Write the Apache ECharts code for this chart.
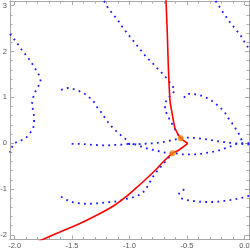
<!DOCTYPE html>
<html>
<head>
<meta charset="utf-8">
<script src="https://cdn.jsdelivr.net/npm/echarts@6/dist/echarts.min.js"></script>
<style>html,body{margin:0;padding:0;background:#fff}#c{width:250px;height:250px}</style>
</head>
<body>
<div id="c"></div>
<script>
// Axis ranges and ticks
var xRange = [-2.04, 0.04];
var yRange = [-2.1, 3.1];
var xMajorTicks = [-2, -1.5, -1, -0.5, 0];
var xMinorTicks = [-1.9,-1.8,-1.7,-1.6,-1.4,-1.3,-1.2,-1.1,-0.9,-0.8,-0.7,-0.6,-0.4,-0.3,-0.2,-0.1];
var yMajorTicks = [-2, -1, 0, 1, 2, 3];
var yMinorTicks = [-1.8,-1.6,-1.4,-1.2,-0.8,-0.6,-0.4,-0.2,0.2,0.4,0.6,0.8,1.2,1.4,1.6,1.8,2.2,2.4,2.6,2.8];

// Blue dotted contour curves
var curveA = [[-2.04,2.381],[-2.005,2.272],[-1.973,2.163],[-1.944,2.054],[-1.909,1.945],[-1.875,1.836],[-1.840,1.705],[-1.814,1.596],[-1.788,1.487],[-1.773,1.356],[-1.796,1.225],[-1.822,1.116],[-1.840,0.985],[-1.849,0.855],[-1.840,0.724],[-1.831,0.593],[-1.831,0.462],[-1.837,0.325],[-1.866,0.222],[-1.901,0.113],[-1.953,0.048],[-2.005,0.0],[-2.025,-0.1],[-2.045,-0.2]];
var curveB = [[-1.222,3.1],[-1.187,2.947],[-1.152,2.838],[-1.117,2.729],[-1.083,2.620],[-1.057,2.511],[-1.024,2.409],[-0.987,2.293],[-0.952,2.184],[-0.917,2.075],[-0.882,1.966],[-0.848,1.857],[-0.807,1.770],[-0.772,1.668],[-0.735,1.574],[-0.700,1.487],[-0.665,1.378],[-0.633,1.269],[-0.604,1.160],[-0.633,1.051],[-0.674,0.970],[-0.691,0.855],[-0.691,0.724],[-0.668,0.600],[-0.641,0.469],[-0.619,0.375],[-0.590,0.240],[-0.554,0.107]];
var curveC = [[-1.596,1.160],[-1.544,1.203],[-1.492,1.182],[-1.439,1.138],[-1.387,1.073],[-1.352,1.007],[-1.309,0.898],[-1.283,0.789],[-1.248,0.680],[-1.213,0.549],[-1.187,0.462],[-1.150,0.347],[-1.111,0.251],[-1.068,0.157],[-1.024,0.070],[-1.004,-0.017]];
var curveH = [[-1.503,-0.017],[-1.402,-0.017],[-1.344,-0.033],[-1.292,-0.039],[-1.233,-0.046],[-1.176,-0.046],[-1.126,-0.039],[-1.068,-0.033],[-1.010,-0.017],[-0.952,-0.024],[-0.894,-0.017],[-0.836,-0.007],[-0.778,-0.002],[-0.720,0.020],[-0.662,0.048],[-0.619,0.070],[-0.554,0.107],[-0.517,0.120],[-0.459,0.120],[-0.401,0.107],[-0.349,0.092],[-0.299,0.070],[-0.241,0.048],[-0.184,0.026],[-0.140,0.011],[-0.082,-0.002],[-0.023,-0.017],[0.031,-0.024],[0.05,-0.026]];
var curveL = [[-1.010,-0.017],[-0.952,-0.024],[-0.894,-0.076],[-0.842,-0.120],[-0.793,-0.148],[-0.741,-0.177],[-0.691,-0.207],[-0.626,-0.220],[-0.604,-0.220],[-0.546,-0.242],[-0.488,-0.242],[-0.430,-0.242],[-0.372,-0.229],[-0.315,-0.207],[-0.271,-0.185],[-0.228,-0.163],[-0.169,-0.111],[-0.126,-0.076],[-0.082,-0.024],[-0.023,-0.002],[0.020,-0.002],[0.05,-0.002]];
var curveD = [[-0.526,0.992],[-0.502,1.073],[-0.450,1.073],[-0.395,1.051],[-0.343,1.007],[-0.293,0.942],[-0.247,0.855],[-0.206,0.767],[-0.169,0.665],[-0.143,0.556],[-0.110,0.447],[-0.082,0.338],[-0.053,0.229],[-0.032,0.107],[-0.009,-0.002]];
var curveG = [[-0.251,3.1],[-0.221,2.991],[-0.195,2.882],[-0.163,2.773],[-0.134,2.664],[-0.099,2.555],[-0.064,2.446],[-0.030,2.337],[-0.004,2.228],[0.029,2.097],[0.049,2.01]];
var curveE = [[-1.596,-1.166],[-1.547,-1.238],[-1.494,-1.288],[-1.437,-1.310],[-1.379,-1.325],[-1.315,-1.318],[-1.257,-1.310],[-1.198,-1.288],[-1.126,-1.275],[-1.083,-1.260],[-1.054,-1.223],[-1.002,-1.201],[-0.952,-1.166],[-0.909,-1.122],[-0.865,-1.035],[-0.836,-0.911],[-0.804,-0.759],[-0.752,-0.585],[-0.691,-0.410],[-0.626,-0.220]];
var curveF = [[-0.523,-1.005],[-0.569,-1.092],[-0.552,-1.201],[-0.502,-1.238],[-0.450,-1.260],[-0.392,-1.275],[-0.334,-1.282],[-0.276,-1.282],[-0.227,-1.275],[-0.178,-1.260],[-0.119,-1.238],[-0.067,-1.216],[-0.015,-1.188],[0.034,-1.151],[0.05,-1.14]];

// Red path: upper branch down to the cusp, lower branch from the cusp
var redUpper = [[-0.683,3.15],[-0.671,2.396],[-0.662,1.668],[-0.648,0.942],[-0.633,0.702],[-0.619,0.506],[-0.604,0.325],[-0.575,0.179],[-0.554,0.107],[-0.526,0.052],[-0.493,-0.002]];
var redLower = [[-0.493,-0.002],[-0.546,-0.105],[-0.589,-0.177],[-0.626,-0.220],[-0.700,-0.388],[-0.778,-0.595],[-0.865,-0.802],[-0.952,-0.998],[-1.039,-1.184],[-1.126,-1.347],[-1.257,-1.533],[-1.431,-1.751],[-1.605,-1.936],[-1.779,-2.125],[-1.80,-2.15]];

// Orange points
var orangePoints = [[-0.554,0.107],[-0.626,-0.220]];

var frameColor = '#a8a8a8';
var labelColor = '#555';
var fontFam = 'Liberation Sans, Arial, sans-serif';

function xAx(pos, ticks, len, showLabel) {
  return {
    type: 'value', position: pos, min: xRange[0], max: xRange[1],
    axisLine: {show: true, onZero: false, lineStyle: {color: frameColor, width: 1}},
    axisTick: {show: true, inside: true, length: len, customValues: ticks, lineStyle: {color: frameColor}},
    axisLabel: {show: showLabel, customValues: xMajorTicks, margin: 2, color: labelColor, fontSize: 7.5, fontFamily: fontFam,
      formatter: function(v){ return v.toFixed(1); }},
    splitLine: {show: false}
  };
}
function yAx(pos, ticks, len, showLabel) {
  return {
    type: 'value', position: pos, min: yRange[0], max: yRange[1],
    axisLine: {show: true, onZero: false, lineStyle: {color: frameColor, width: 1}},
    axisTick: {show: true, inside: true, length: len, customValues: ticks, lineStyle: {color: frameColor}},
    axisLabel: {show: showLabel, customValues: yMajorTicks, margin: 3, color: labelColor, fontSize: 7.5, fontFamily: fontFam,
      formatter: function(v){ return String(Math.round(v)); }},
    splitLine: {show: false}
  };
}

function dotted(data) {
  return {
    type: 'line', data: data, xAxisIndex: 0, yAxisIndex: 0, symbol: 'none', smooth: false, silent: true,
    lineStyle: {color: '#1a1aff', width: 1.8, type: [1.8, 4.3], cap: 'butt'}, z: 2
  };
}
function red(data) {
  return {type: 'line', data: data, symbol: 'none', smooth: 0.3, silent: true,
    lineStyle: {color: '#ff0000', width: 1.6}, z: 3};
}

var chart = echarts.init(document.getElementById('c'), null, {renderer: 'canvas'});
chart.setOption({
  animation: false,
  backgroundColor: '#fff',
  grid: {left: 10, right: 1, top: 1, bottom: 10.5, containLabel: false, outerBoundsMode: 'none'},
  xAxis: [xAx('bottom', xMajorTicks, 4, true), xAx('bottom', xMinorTicks, 2.5, false), xAx('top', xMajorTicks, 4, false), xAx('top', xMinorTicks, 2.5, false)],
  yAxis: [yAx('left', yMajorTicks, 4, true), yAx('left', yMinorTicks, 2.5, false), yAx('right', yMajorTicks, 4, false), yAx('right', yMinorTicks, 2.5, false)],
  series: [
    dotted(curveA), dotted(curveB), dotted(curveC), dotted(curveH), dotted(curveL),
    dotted(curveD), dotted(curveG), dotted(curveE), dotted(curveF),
    red(redUpper), red(redLower),
    {type: 'scatter', data: orangePoints, symbol: 'circle', symbolSize: 6, silent: true,
     itemStyle: {color: '#ff8000'}, z: 4}
  ]
});
</script>
</body>
</html>
